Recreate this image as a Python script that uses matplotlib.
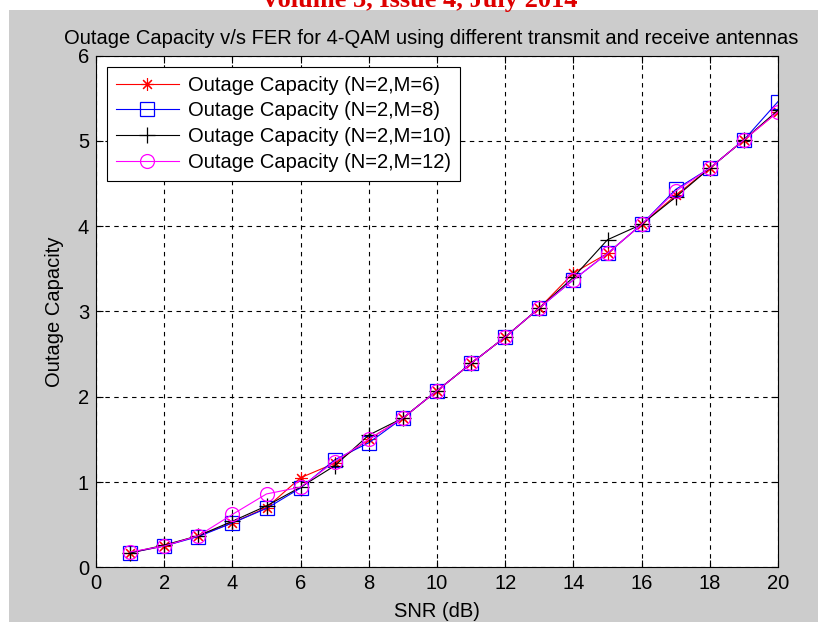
import numpy as np
import matplotlib
matplotlib.use("Agg")
import matplotlib.pyplot as plt
from matplotlib.patches import Rectangle

# SNR points (dB)
snr = list(range(1, 21))

# Outage capacity
cap_m6 = [0.17, 0.25, 0.37, 0.52, 0.70, 1.05, 1.22, 1.50, 1.75, 2.07,
          2.39, 2.70, 3.04, 3.45, 3.68, 4.02, 4.36, 4.68, 5.01, 5.34]
cap_m8 = [0.17, 0.25, 0.36, 0.52, 0.69, 0.93, 1.26, 1.46, 1.75, 2.07,
          2.39, 2.70, 3.04, 3.37, 3.68, 4.02, 4.43, 4.68, 5.01, 5.46]
cap_m10 = [0.17, 0.26, 0.37, 0.54, 0.72, 0.94, 1.19, 1.55, 1.75, 2.07,
           2.39, 2.70, 3.04, 3.40, 3.84, 4.02, 4.34, 4.68, 5.01, 5.36]
cap_m12 = [0.18, 0.25, 0.37, 0.62, 0.86, 0.94, 1.24, 1.50, 1.75, 2.07,
           2.39, 2.70, 3.04, 3.37, 3.68, 4.02, 4.41, 4.68, 5.01, 5.34]

labels = ["Outage Capacity (N=2,M=6)", "Outage Capacity (N=2,M=8)",
          "Outage Capacity (N=2,M=10)", "Outage Capacity (N=2,M=12)"]

plt.rcParams['font.family'] = ['Liberation Sans', 'DejaVu Sans']
fs = 14.5

fig = plt.figure(figsize=(8.18, 6.22), dpi=100, facecolor="white")
# grey matlab figure background (page margin left white)
fig.patches.append(Rectangle((9 / 818, 0), 1, (622 - 10) / 622, transform=fig.transFigure,
                             facecolor="#cccccc", edgecolor="none", zorder=-10))
# page header, cut by the top edge as in the scan
fig.text(0.512, 1 - 7 / 622, "Volume 3, Issue 4, July 2014", color="#dd0000",
         fontsize=19, fontweight="bold", family="Liberation Serif", ha="center",
         va="baseline", zorder=-5)

ax = fig.add_axes([96 / 818, (622 - 567.3) / 622, (778 - 96) / 818, (567.3 - 55.5) / 622])
ax.set_facecolor("white")

ax.plot(snr, cap_m6, color="red", marker=(8, 2, 0), markersize=9, linewidth=0.8,
        markeredgewidth=0.8, label=labels[0])
ax.plot(snr, cap_m8, color="blue", marker="s", markersize=10, markerfacecolor="none",
        linewidth=0.8, markeredgewidth=0.9, label=labels[1])
ax.plot(snr, cap_m10, color="black", marker="+", markersize=11, linewidth=0.8,
        markeredgewidth=0.9, label=labels[2])
ax.plot(snr, cap_m12, color="magenta", marker="o", markersize=10, markerfacecolor="none",
        linewidth=0.8, markeredgewidth=0.9, label=labels[3])

ax.set_xlim(0, 20)
ax.set_ylim(0, 6)
ax.set_xticks(range(0, 21, 2))
ax.set_yticks(range(0, 7))
ax.grid(True, color="black", linestyle=(0, (4, 4)), linewidth=0.8)
ax.tick_params(direction="in", top=True, right=True, length=5, labelsize=fs, pad=5)
for s in ax.spines.values():
    s.set_linewidth(0.8)

ax.set_title("Outage Capacity v/s FER for 4-QAM using different transmit and receive antennas",
             fontsize=fs, pad=8, x=0.492)
ax.set_xlabel("SNR (dB)", fontsize=fs, labelpad=6)
ax.set_ylabel("Outage Capacity", fontsize=fs, labelpad=10)

leg = ax.legend(loc="upper left", fontsize=fs, fancybox=False, edgecolor="black",
                framealpha=1, handlelength=3.1, handletextpad=0.45, borderpad=0.45,
                borderaxespad=0.55, labelspacing=0.34)
leg.get_frame().set_linewidth(0.8)

fig.savefig("out.png", dpi=100, facecolor=fig.get_facecolor())
